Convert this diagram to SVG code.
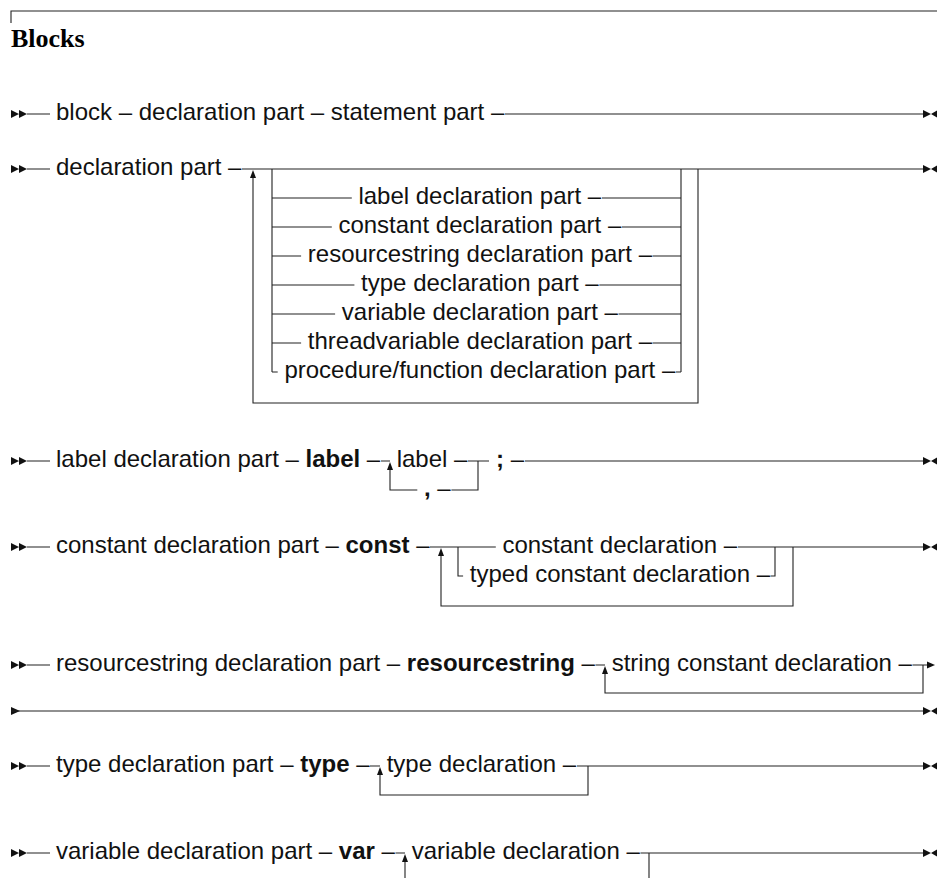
<svg xmlns="http://www.w3.org/2000/svg" width="937" height="878" viewBox="0 0 937 878">
<style>
.t{font-family:"Liberation Sans",Arial,Helvetica,sans-serif;font-size:24px;fill:#111}
.b{font-weight:bold}
.h{font-family:"Liberation Serif","Times New Roman",serif;font-size:26px;font-weight:bold;fill:#000}
.c{stroke:#222;stroke-width:1.1;fill:none}
.m{fill:#111}
</style>
<defs>
<path id="start" class="m" d="M0,-4 L8,0 L0,4 Z M8,-4 L16,0 L8,4 Z"/>
<path id="end" class="m" d="M0,-4 L8,0 L0,4 Z M14,-3.5 L8,0 L14,3.5 Z"/>
<path id="cont" class="m" d="M0,-4 L9,0 L0,4 Z"/>
<path id="arr" class="m" d="M-8,-3.5 L0,0 L-8,3.5 Z"/>
<path id="up" class="m" d="M0,0 L3,8 L-3,8 Z"/>
</defs>

<g id="header">
<path class="c" d="M11,23 V11 H937"/>
<text class="h" x="11" y="47">Blocks</text>
</g>

<g id="connectors">
<!-- row 1 -->
<use href="#start" x="11" y="114"/>
<path class="c" d="M27,114 H50 M505,114 H923"/>
<use href="#end" x="923" y="114"/>
<!-- row 2 declaration part -->
<use href="#start" x="11" y="169"/>
<path class="c" d="M27,169 H50 M242,169 H923"/>
<use href="#end" x="923" y="169"/>
<path class="c" d="M253,178 V403 H698 V169"/>
<use href="#up" x="253" y="170"/>
<path class="c" d="M272,169 V372 M681,169 V372"/>
<path class="c" d="M272,198 H351.8 M602,198 H681"/>
<path class="c" d="M272,227 H331.8 M622,227 H681"/>
<path class="c" d="M272,256 H301.1 M652.6,256 H681"/>
<path class="c" d="M272,285 H354.4 M599.3,285 H681"/>
<path class="c" d="M272,314 H335.1 M618.6,314 H681"/>
<path class="c" d="M272,343 H301.1 M652.6,343 H681"/>
<path class="c" d="M272,372 H277.7 M676,372 H681"/>
<!-- label -->
<use href="#start" x="11" y="461"/>
<path class="c" d="M27,461 H50 M381,461 H390 M468,461 H489 M525,461 H923"/>
<use href="#end" x="923" y="461"/>
<path class="c" d="M390,469 V490 H417.3 M451.4,490 H478 V461"/>
<use href="#up" x="390" y="462"/>
<!-- const -->
<use href="#start" x="11" y="547"/>
<path class="c" d="M27,547 H50 M430,547 H495.8 M738,547 H923"/>
<use href="#end" x="923" y="547"/>
<path class="c" d="M441,555 V606 H793 V547"/>
<use href="#up" x="441" y="548"/>
<path class="c" d="M458,547 V576 H463.1 M770.6,576 H775 V547"/>
<!-- resourcestring -->
<use href="#start" x="11" y="665"/>
<path class="c" d="M27,665 H50 M595.5,665 H605 M912.5,665 H928"/>
<use href="#arr" x="935" y="665"/>
<path class="c" d="M605,673 V693 H923 V665"/>
<use href="#up" x="605" y="666"/>
<use href="#cont" x="11" y="711"/>
<path class="c" d="M11,711 H923"/>
<use href="#end" x="923" y="711"/>
<!-- type -->
<use href="#start" x="11" y="766"/>
<path class="c" d="M27,766 H50 M370,766 H380 M577,766 H923"/>
<use href="#end" x="923" y="766"/>
<path class="c" d="M380,774 V795 H588 V766"/>
<use href="#up" x="380" y="767"/>
<!-- var -->
<use href="#start" x="11" y="853"/>
<path class="c" d="M27,853 H50 M395.5,853 H405 M640.5,853 H923"/>
<use href="#end" x="923" y="853"/>
<path class="c" d="M405,861 V880 M649,853 V880"/>
<use href="#up" x="405" y="854"/>
</g>

<g id="block-rule"><text class="t" x="56" y="120">block – declaration part – statement part –</text></g>

<g id="declaration-part-rule"><text class="t" x="56" y="175">declaration part –</text></g>
<g id="opt-label"><text class="t" x="358.4" y="204">label declaration part –</text></g>
<g id="opt-constant"><text class="t" x="338.4" y="233">constant declaration part –</text></g>
<g id="opt-resourcestring"><text class="t" x="307.8" y="262">resourcestring declaration part –</text></g>
<g id="opt-type"><text class="t" x="361.1" y="291">type declaration part –</text></g>
<g id="opt-variable"><text class="t" x="341.8" y="320">variable declaration part –</text></g>
<g id="opt-threadvariable"><text class="t" x="307.8" y="349">threadvariable declaration part –</text></g>
<g id="opt-procedure"><text class="t" x="284.4" y="378">procedure/function declaration part –</text></g>

<g id="label-rule"><text class="t" x="56" y="467">label declaration part – <tspan class="b">label</tspan> –</text></g>
<g id="label-item"><text class="t" x="396.7" y="467">label –</text></g>
<g id="label-comma"><text class="t" x="424" y="496"><tspan class="b">,</tspan> –</text></g>
<g id="label-semicolon"><text class="t" x="496" y="467"><tspan class="b">;</tspan> –</text></g>

<g id="const-rule"><text class="t" x="56" y="553">constant declaration part – <tspan class="b">const</tspan> –</text></g>
<g id="const-constant"><text class="t" x="502.4" y="553">constant declaration –</text></g>
<g id="const-typed"><text class="t" x="469.8" y="582">typed constant declaration –</text></g>

<g id="resourcestring-rule"><text class="t" x="56" y="671">resourcestring declaration part – <tspan class="b">resourcestring</tspan> –</text></g>
<g id="resourcestring-item"><text class="t" x="611.7" y="671">string constant declaration –</text></g>

<g id="type-rule"><text class="t" x="56" y="772">type declaration part – <tspan class="b">type</tspan> –</text></g>
<g id="type-item"><text class="t" x="386.7" y="772">type declaration –</text></g>

<g id="var-rule"><text class="t" x="56" y="859">variable declaration part – <tspan class="b">var</tspan> –</text></g>
<g id="var-item"><text class="t" x="411.7" y="859">variable declaration –</text></g>
</svg>
